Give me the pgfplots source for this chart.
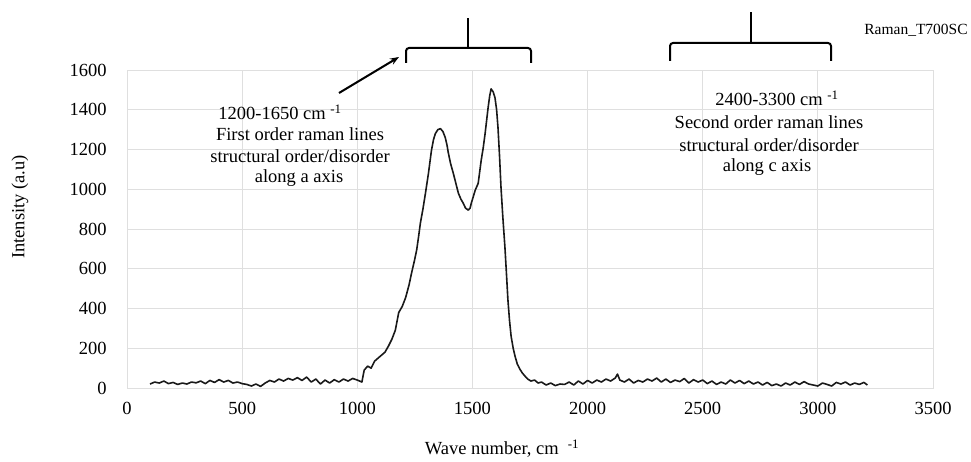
\documentclass[border=0pt]{standalone}
\usepackage{fontspec}
\setmainfont{Liberation Serif}
\usepackage{pgfplots}
\pgfplotsset{compat=1.18}
\usetikzlibrary{arrows.meta}
\begin{document}
\fontsize{18.5}{22}\selectfont
\begin{tikzpicture}
\path[use as bounding box] (0pt,0pt) rectangle (971pt,-462pt);
\begin{axis}[
  at={(127pt,-388pt)}, anchor=south west,
  scale only axis, width=806pt, height=318pt,
  xmin=0, xmax=3500, ymin=0, ymax=1600,
  xtick={0,500,...,3500}, ytick={0,200,...,1600},
  grid=major, major grid style={gray!25, line width=0.8pt},
  axis line style={gray!25},
  tick style={draw=none},
  ticklabel style={font=\fontsize{18.5}{22}\selectfont},
  /pgf/number format/assume math mode=true,
  scaled ticks=false, /pgf/number format/1000 sep={},
  xticklabel style={yshift=-8pt},
  yticklabel style={xshift=-14pt},
  clip=false,
]
\addplot[black!90, line width=1.6pt, line join=round] coordinates {
(100,20)(120,30)(140,25)(160,35)(180,22)(200,28)(220,18)(240,25)(260,20)(280,30)
(300,26)(320,35)(340,22)(360,38)(380,28)(400,42)(420,30)(440,38)(460,25)(480,30)
(500,22)(520,18)(540,10)(560,20)(580,8)(600,25)(620,38)(640,30)(660,45)(680,35)
(700,48)(720,40)(740,52)(760,38)(780,55)(800,30)(820,45)(840,20)(860,40)(880,25)
(900,42)(920,30)(940,45)(960,35)(980,48)(1000,40)(1020,30)
(1030,90)(1045,110)(1060,100)(1075,135)(1090,150)(1105,165)(1120,180)(1135,210)
(1150,245)(1165,290)(1180,380)(1195,410)(1210,455)(1225,520)(1236,580)(1248,640)
(1258,695)(1266,760)(1274,830)(1285,900)(1296,980)(1309,1080)(1322,1195)(1331,1250)
(1339,1280)(1350,1300)(1361,1305)(1372,1290)(1382,1260)(1390,1220)(1395,1185)
(1405,1130)(1417,1080)(1428,1030)(1439,980)(1450,950)(1460,930)(1470,905)(1482,895)
(1490,905)(1495,930)(1503,960)(1512,995)(1525,1030)(1538,1145)(1547,1210)(1555,1280)
(1562,1350)(1568,1410)(1575,1470)(1581,1505)(1590,1490)(1598,1460)(1605,1400)
(1611,1310)(1618,1160)(1624,1010)(1632,860)(1641,710)(1648,570)(1654,445)(1661,340)
(1668,260)(1677,200)(1685,160)(1695,120)(1706,95)(1717,75)(1728,60)(1740,45)
(1754,35)(1770,40)(1785,25)(1800,30)
(1820,15)(1840,25)(1860,12)(1880,20)(1900,18)(1920,30)(1940,15)(1960,35)(1980,20)
(2000,38)(2020,25)(2040,40)(2060,30)(2080,45)(2100,35)(2120,50)(2130,70)(2140,40)
(2160,30)(2180,45)(2200,25)(2220,38)(2240,30)(2260,45)(2280,35)(2300,50)(2320,30)
(2340,45)(2360,28)(2380,40)(2400,32)(2420,48)(2440,25)(2460,42)(2480,30)(2500,40)
(2520,22)(2540,35)(2560,18)(2580,30)(2600,20)(2620,40)(2640,25)(2660,38)(2680,22)
(2700,35)(2720,20)(2740,30)(2760,15)(2780,28)(2800,12)(2820,20)(2840,10)(2860,25)
(2880,15)(2900,30)(2920,18)(2940,32)(2960,20)(2980,15)(3000,10)(3020,25)(3040,18)
(3060,10)(3080,28)(3100,20)(3120,30)(3140,15)(3160,25)(3180,18)(3200,28)(3215,15)
};
\end{axis}
% axis labels and title
\node[rotate=90] at (20pt,-207pt) {Intensity (a.u)};
\node at (502pt,-449pt) {Wave number, cm\hspace{9pt}\textsuperscript{-1}};
\node[font=\fontsize{15.5}{18}\selectfont] at (916pt,-30pt) {Raman\_T700SC};
% annotation 1
\node at (280pt,-112pt) {1200-1650 cm \textsuperscript{-1}};
\node at (300pt,-134pt) {First order raman lines};
\node at (300pt,-156pt) {structural order/disorder};
\node at (299pt,-178pt) {along a axis};
% annotation 2
\node at (777pt,-98pt) {2400-3300 cm \textsuperscript{-1}};
\node at (769pt,-122pt) {Second order raman lines};
\node at (769pt,-145pt) {structural order/disorder};
\node at (767pt,-167pt) {along c axis};
% brackets
\draw[line width=2pt, rounded corners=3pt] (406pt,-63pt) -- (406pt,-48pt) -- (531pt,-48pt) -- (531pt,-63pt);
\draw[line width=2pt] (468pt,-48pt) -- (468pt,-18pt);
\draw[line width=2pt, rounded corners=3pt] (670pt,-61pt) -- (670pt,-43pt) -- (831pt,-43pt) -- (831pt,-61pt);
\draw[line width=2pt] (751pt,-43pt) -- (751pt,-12pt);
\draw[-{Stealth[length=9pt]}, line width=2pt] (339pt,-93pt) -- (399pt,-57pt);
\end{tikzpicture}
\end{document}
